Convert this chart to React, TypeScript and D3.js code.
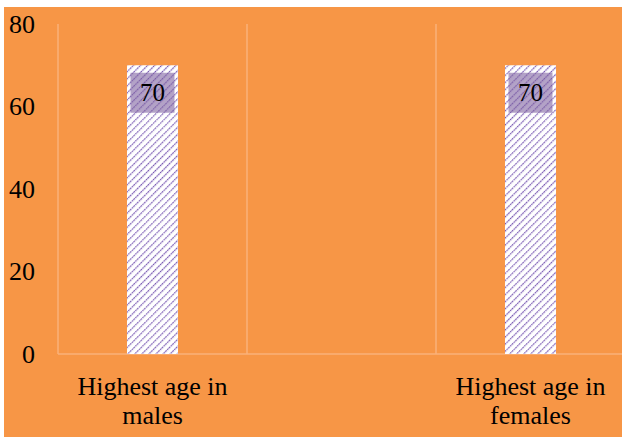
import React from "react";
import * as d3 from "d3";

const categories = ["Highest age in males", "", "Highest age in females"];
const values: (number | null)[] = [70, null, 70];
const yTicks = [0, 20, 40, 60, 80];

const W = 622;
const H = 439;

export default function App() {
  const left = 58;
  const step = 189;
  const x = d3
    .scaleBand<string>()
    .domain(categories.map((c, i) => String(i)))
    .range([left, left + step * categories.length])
    .paddingInner(0)
    .paddingOuter(0);
  const y = d3.scaleLinear().domain([0, 80]).range([354, 24]);
  const bw = x.bandwidth() * 0.27;
  const font = "'Liberation Serif', 'Times New Roman', serif";

  const splitLabel = (s: string) => {
    const idx = s.lastIndexOf(" ");
    if (!s) return [];
    return [s.slice(0, idx), s.slice(idx + 1)];
  };

  return (
    <svg
      width={W}
      height={H}
      style={{ position: "absolute", left: 0, top: 0 }}
    >
      <defs>
        <pattern
          id="hatch"
          patternUnits="userSpaceOnUse"
          width="5"
          height="5"
          patternTransform="rotate(45)"
        >
          <rect width="5" height="5" fill="#ffffff" />
          <line x1="0" y1="0" x2="0" y2="5" stroke="#7352b0" strokeWidth="2.4" strokeDasharray="1.8 0.7" />
        </pattern>
      </defs>
      <rect x={4} y={7} width={W - 4} height={430} fill="#f79646" />
      {/* vertical gridlines */}
      {categories.map((c, i) => (
        <line
          key={"g" + i}
          x1={x(String(i))!}
          x2={x(String(i))!}
          y1={y(80)}
          y2={y(0)}
          stroke="#fab07a"
          strokeWidth={1.5}
        />
      ))}
      <line x1={left} x2={W} y1={y(0)} y2={y(0)} stroke="#fab07a" strokeWidth={1.5} />
      {/* y ticks */}
      {yTicks.map((t) => (
        <text
          key={t}
          x={35}
          y={y(t)}
          dy="0.33em"
          textAnchor="end"
          fontFamily={font}
          fontSize={26}
          fill="#000"
        >
          {t}
        </text>
      ))}
      {/* bars */}
      {values.map((v, i) =>
        v == null ? null : (
          <g key={"b" + i}>
            <rect
              x={x(String(i))! + x.bandwidth() / 2 - bw / 2}
              y={y(v)}
              width={bw}
              height={y(0) - y(v)}
              fill="url(#hatch)"
            />
            <rect
              x={x(String(i))! + x.bandwidth() / 2 - 22}
              y={y(v) + 7.5}
              width={44}
              height={40}
              fill="#8064a2"
              opacity={0.6}
            />
            <text
              x={x(String(i))! + x.bandwidth() / 2}
              y={y(v) + 27.5}
              dy="0.33em"
              textAnchor="middle"
              fontFamily={font}
              fontSize={25}
              fill="#000"
            >
              {v}
            </text>
          </g>
        )
      )}
      {/* category labels */}
      {categories.map((c, i) =>
        splitLabel(c).map((line, j) => (
          <text
            key={"c" + i + "-" + j}
            x={x(String(i))! + x.bandwidth() / 2}
            y={386 + j * 29}
            dy="0.33em"
            textAnchor="middle"
            fontFamily={font}
            fontSize={26}
            fill="#000"
          >
            {line}
          </text>
        ))
      )}
    </svg>
  );
}
